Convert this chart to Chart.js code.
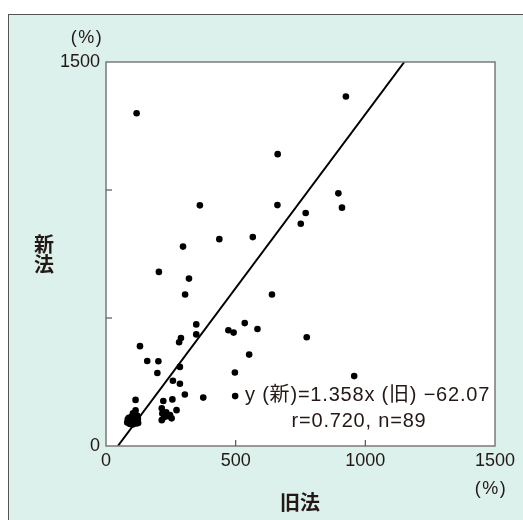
<!DOCTYPE html>
<html>
<head>
<meta charset="utf-8">
<script src="https://cdn.jsdelivr.net/npm/chart.js@4.4.0/dist/chart.umd.min.js"></script>
<style>
  html, body { margin: 0; padding: 0; background: #fff; }
  canvas { display: block; }
</style>
</head>
<body>
<canvas id="scatter" width="523" height="520"></canvas>
<script>
// --- DATA ---
// 旧法 (x) / 新法 (y), %
const oldLaw = [
  118, 925, 362, 662, 661, 896, 910, 770, 751, 437,
  566, 297, 204, 320, 305, 640, 348, 348, 289, 282,
  472, 492, 535, 584, 774, 552, 131, 159, 202, 198,
  285, 497, 258, 285, 304, 375, 498, 957, 114, 221,
  256, 114, 272, 215, 217, 247, 253, 215, 232, 240,
  224,
  82, 86, 90, 92, 95, 97, 100, 100, 102, 104,
  105, 107, 108, 110, 112, 113, 115, 116, 118, 120,
  122, 124, 88, 94, 99, 103, 106, 111, 114, 117,
  119, 121, 96, 101, 109, 84, 91, 123
];
const newLaw = [
  1300, 1365, 940, 1140, 941, 987, 931, 910, 868, 808,
  816, 779, 680, 654, 592, 592, 475, 436, 422, 405,
  452, 443, 480, 457, 425, 357, 390, 332, 331, 285,
  309, 287, 255, 243, 201, 189, 195, 273, 180, 176,
  182, 139, 140, 147, 127, 121, 108, 101, 132, 116,
  112,
  92, 98, 88, 105, 95, 112, 90, 100, 118, 128,
  96, 108, 88, 115, 100, 92, 120, 105, 95, 110,
  98, 90, 110, 86, 106, 84, 122, 94, 110, 88,
  102, 118, 100, 112, 102, 104, 96, 106
];
const xTicks = [0, 500, 1000, 1500];
const yTickLabels = [0, 1500];   // only these two are printed on the y axis
const slope = 1.358;
const intercept = -62.07;
const eqLines = ['y (新)=1.358x (旧) −62.07', 'r=0.720, n=89'];

const points = oldLaw.map((x, i) => ({ x: x, y: newLaw[i] }));
// regression line from y=0 to y=1500
const fitLine = [
  { x: -intercept / slope, y: 0 },
  { x: (1500 - intercept) / slope, y: 1500 }
];

const TXT = '#231815';
const NUM_FONT = '"Liberation Sans", Arial, "Noto Sans CJK JP", sans-serif';
const JP_FONT = '"Noto Sans CJK JP", "Noto Sans", sans-serif';

// --- PLUGINS ---
const panelBg = {
  id: 'panelBg',
  beforeDraw(chart) {
    const c = chart.ctx, a = chart.chartArea;
    c.save();
    c.fillStyle = '#ffffff';
    c.fillRect(0, 0, chart.width, chart.height);
    c.fillStyle = '#dcf1ec';
    c.fillRect(8.5, 14.5, chart.width, chart.height);
    c.strokeStyle = '#555';
    c.lineWidth = 1;
    c.strokeRect(8.5, 14.5, chart.width + 10, chart.height + 10);
    c.fillStyle = '#ffffff';
    c.fillRect(a.left, a.top, a.right - a.left, a.bottom - a.top);
    c.restore();
  }
};

const frameAndText = {
  id: 'frameAndText',
  afterDraw(chart) {
    const c = chart.ctx, a = chart.chartArea;
    const xs = chart.scales.x, ys = chart.scales.y;
    c.save();
    c.strokeStyle = '#7a7a7a';
    c.lineWidth = 1.5;
    c.strokeRect(a.left, a.top, a.right - a.left, a.bottom - a.top);
    // inward ticks
    c.lineWidth = 1.2;
    c.strokeStyle = '#555';
    [500, 1000].forEach(v => {
      const px = xs.getPixelForValue(v);
      c.beginPath(); c.moveTo(px, a.bottom); c.lineTo(px, a.bottom - 6); c.stroke();
      const py = ys.getPixelForValue(v);
      c.beginPath(); c.moveTo(a.left, py); c.lineTo(a.left + 6, py); c.stroke();
    });

    c.fillStyle = TXT;
    c.textBaseline = 'middle';
    c.textAlign = 'center';
    c.font = '18px ' + NUM_FONT;
    c.letterSpacing = '1.5px';
    c.fillText('(%)', 87, 38);
    c.fillText('(%)', 491, 489);
    c.letterSpacing = '0px';

    c.font = 'bold 20px ' + JP_FONT;
    c.fillText('旧法', 300, 502);
    c.fillText('新', 44, 244);
    c.fillText('法', 44, 264);

    c.font = '20px ' + NUM_FONT;
    c.letterSpacing = '0.8px';
    c.textAlign = 'left';
    c.fillText(eqLines[0], 245, 395);
    c.textAlign = 'center';
    c.fillText(eqLines[1], 359, 421);
    c.restore();
  }
};

// --- CHART ---
new Chart(document.getElementById('scatter'), {
  type: 'scatter',
  data: {
    datasets: [
      {
        data: points,
        backgroundColor: '#000',
        borderWidth: 0,
        pointRadius: 3.3,
        pointHoverRadius: 3.3
      },
      {
        type: 'line',
        data: fitLine,
        borderColor: '#000',
        borderWidth: 2,
        pointRadius: 0,
        fill: false
      }
    ]
  },
  options: {
    responsive: false,
    animation: false,
    devicePixelRatio: 1,
    layout: { padding: { left: 0, right: 28, top: 62, bottom: 0 } },
    plugins: { legend: { display: false }, tooltip: { enabled: false } },
    scales: {
      x: {
        type: 'linear',
        min: 0, max: 1500,
        afterBuildTicks: s => { s.ticks = xTicks.map(v => ({ value: v })); },
        afterFit: s => { s.height = 74; },
        ticks: {
          color: TXT, font: { family: NUM_FONT, size: 18 }, padding: 4, maxRotation: 0,
          callback: v => String(v)
        },
        grid: { display: false, drawTicks: false },
        border: { display: false }
      },
      y: {
        type: 'linear',
        min: 0, max: 1500,
        afterBuildTicks: s => { s.ticks = yTickLabels.map(v => ({ value: v })); },
        afterFit: s => { s.width = 106; },
        ticks: {
          color: TXT, font: { family: NUM_FONT, size: 18 }, padding: 6,
          callback: v => String(v)
        },
        grid: { display: false, drawTicks: false },
        border: { display: false }
      }
    }
  },
  plugins: [panelBg, frameAndText]
});
</script>
</body>
</html>
